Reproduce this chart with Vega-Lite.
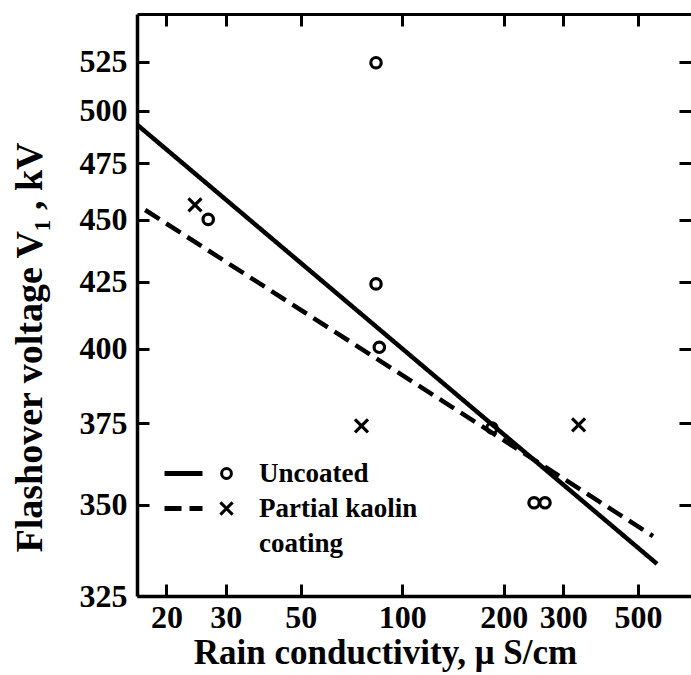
{
  "$schema": "https://vega.github.io/schema/vega-lite/v6.json",
  "autosize": "none",
  "padding": {"left": 137, "top": 14, "right": 0, "bottom": 79},
  "width": 554,
  "height": 582,
  "background": "white",
  "config": {
    "view": {"stroke": null},
    "font": "Liberation Serif",
    "axis": {
      "labelFont": "Liberation Serif", "labelFontWeight": "bold", "labelFontSize": 32, "labelColor": "black",
      "titleFont": "Liberation Serif", "titleFontWeight": "bold", "titleFontSize": 35, "titleColor": "black",
      "domainColor": "black", "domainWidth": 3.5, "tickColor": "black", "tickWidth": 3, "tickSize": -12, "grid": false
    },
    "legend": {"labelFont": "Liberation Serif", "labelFontWeight": "bold", "labelColor": "black"}
  },
  "datasets": {
    "lines": [
      {"line": "Uncoated", "c": 16.4, "v": 493},
      {"line": "Uncoated", "c": 569, "v": 333.5},
      {"line": "Partial kaolin coating", "c": 17.3, "v": 454.2},
      {"line": "Partial kaolin coating", "c": 553.7, "v": 341.1}
    ],
    "points": [
      {"series": "Uncoated", "c": 83.6, "v": 524.6},
      {"series": "Uncoated", "c": 83.6, "v": 424.1},
      {"series": "Uncoated", "c": 85.5, "v": 400.6},
      {"series": "Uncoated", "c": 26.6, "v": 450.2},
      {"series": "Uncoated", "c": 245.8, "v": 350.6},
      {"series": "Uncoated", "c": 264.9, "v": 350.6},
      {"series": "Uncoated", "c": 184.5, "v": 373.4},
      {"series": "Partial kaolin coating", "c": 24.3, "v": 456.4},
      {"series": "Partial kaolin coating", "c": 75.7, "v": 374.1},
      {"series": "Partial kaolin coating", "c": 333.2, "v": 374.4}
    ]
  },
  "resolve": {"axis": {"x": "independent", "y": "independent"}, "legend": {"shape": "independent", "strokeDash": "independent"}},
  "layer": [
    {
      "data": {"name": "lines"},
      "mark": {"type": "line", "color": "black", "strokeWidth": 4.5, "strokeCap": "butt"},
      "encoding": {
        "x": {"field": "c", "type": "quantitative",
          "scale": {"type": "log", "domain": [16.36, 717.5], "nice": false, "zero": false},
          "axis": {"orient": "bottom", "values": [20, 30, 50, 100, 200, 300, 500], "format": "d", "labelPadding": 18,
                   "title": "Rain conductivity, μ S/cm", "titleX": 248, "titleY": 39, "titleBaseline": "top", "titleAnchor": null}},
        "y": {"field": "v", "type": "quantitative",
          "scale": {"type": "pow", "exponent": -0.5, "domain": [325, 551.5], "nice": false, "zero": false},
          "axis": {"orient": "left", "values": [325, 350, 375, 400, 425, 450, 475, 500, 525], "format": "d", "labelPadding": 22,
                   "title": "Flashover voltage V₁ , kV", "titleFontSize": 38, "titleX": -107, "titleY": 333, "titleAngle": -90, "titleAlign": "center", "titleBaseline": "middle"}},
        "strokeDash": {"field": "line", "type": "nominal",
          "scale": {"domain": ["Uncoated", "Partial kaolin coating"], "range": [[1, 0], [17, 8]]},
          "legend": {"orient": "none", "legendX": 33, "legendY": 446, "title": null, "padding": 0,
                     "symbolType": "M-2,0L2,0", "symbolSize": 361, "symbolStrokeWidth": 5, "symbolStrokeColor": "black",
                     "labelExpr": "''", "labelFontSize": 27, "rowPadding": 7}},
        "detail": {"field": "line"}
      }
    },
    {
      "data": {"name": "points"},
      "mark": {"type": "point", "filled": false, "stroke": "black", "strokeWidth": 3.2, "size": 169, "opacity": 1},
      "encoding": {
        "x": {"field": "c", "type": "quantitative",
          "axis": {"orient": "top", "values": [20, 30, 50, 100, 200, 300, 500], "labels": false, "title": null, "domainWidth": 3}},
        "y": {"field": "v", "type": "quantitative",
          "axis": {"orient": "right", "values": [350, 375, 400, 425, 450, 475, 500, 525], "labels": false, "title": null, "domain": false}},
        "shape": {"field": "series", "type": "nominal",
          "scale": {"domain": ["Uncoated", "Partial kaolin coating", "(cont)"],
                    "range": ["M0.8,0A0.8,0.8 0 1,1 -0.8,0A0.8,0.8 0 1,1 0.8,0", "M-1,-1L1,1M1,-1L-1,1", "M0,0L0,0"]},
          "legend": {"orient": "none", "legendX": 76, "legendY": 446, "title": null, "padding": 0,
                     "symbolSize": 150, "symbolStrokeWidth": 3, "symbolStrokeColor": "black", "symbolFillColor": "transparent",
                     "labelFontSize": 27, "labelOffset": 19, "rowPadding": 7,
                     "labelExpr": "datum.label == 'Partial kaolin coating' ? 'Partial kaolin' : datum.label == '(cont)' ? 'coating' : datum.label"}}
      }
    }
  ]
}
